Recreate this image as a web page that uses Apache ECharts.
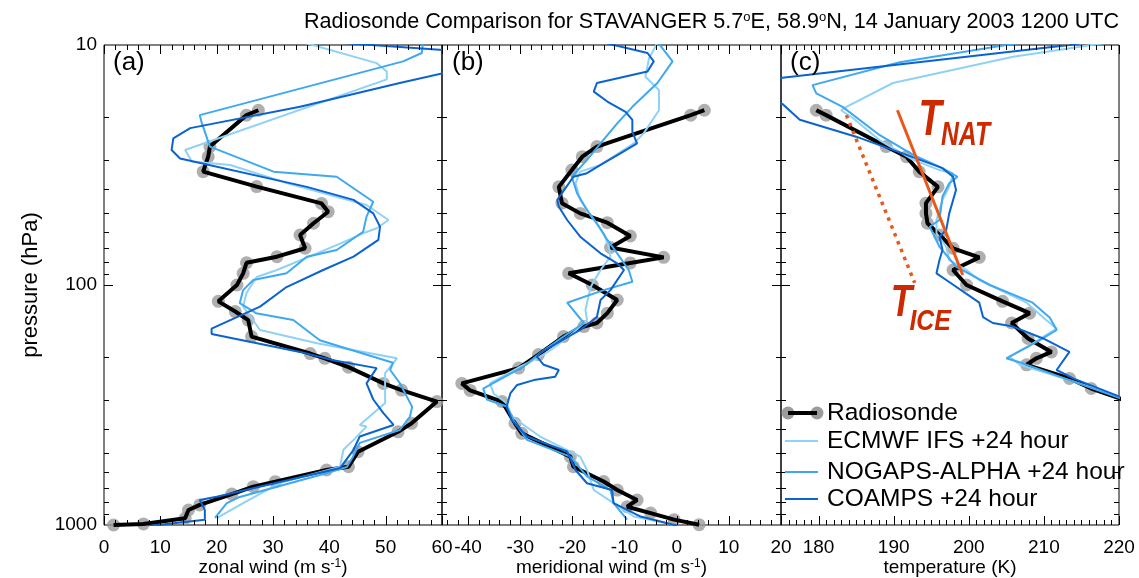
<!DOCTYPE html>
<html><head><meta charset="utf-8">
<script src="https://cdn.jsdelivr.net/npm/echarts@6/dist/echarts.min.js"></script>
<style>html,body{margin:0;padding:0;background:#fff}#c{width:1139px;height:578px}</style>
</head><body><div id="c"></div>
<script>
const FONT = "'Liberation Sans', Arial, Helvetica, sans-serif";

// ---------- data: [value, pressure hPa] ----------
const zonalRadiosonde = [[27.4,18.7],[25.3,19.6],[18.8,26.5],[18.5,29.2],[17.6,33.7],[27.1,38.9],[38.6,45.7],[39.8,49.5],[37.2,55.3],[34.8,61.9],[35.7,70.3],[30.7,76.2],[25.3,80.8],[24.7,89.4],[23.6,100],[20.3,117],[23.3,129],[25.6,140],[26.2,164],[36.6,193],[39.2,202],[43.4,220],[49.6,257],[52.8,274],[59.1,306],[54.6,377],[52.2,409],[45.1,495],[43.4,572],[39.5,590],[30.4,660],[26.5,692],[22.7,743],[17.0,825],[15.0,866],[14.4,938],[7.0,990],[1.7,1000]];
const zonalECMWF = [[35.7,9.8],[48.4,11.9],[50.2,12.9],[50.2,13.9],[14.4,27.4],[15.6,30.6],[22.4,31.6],[32.4,37.6],[46.6,46.4],[50.5,53.6],[48.4,58.0],[46.0,60.9],[41.9,67.2],[37.8,73.8],[30.7,86.6],[27.1,92.6],[25.3,108],[24.7,123],[27.7,154],[37.8,175],[52.0,202],[49.9,233],[49.9,310],[45.4,383],[46.6,389],[44.3,442],[42.5,486],[41.9,571],[31.2,669],[24.7,811],[20.0,936]];
const zonalNOGAPS = [[56.7,9.5],[56.4,10.8],[53.1,11.7],[17.0,19.6],[17.3,20.9],[18.8,26.5],[30.1,33.7],[41.3,35.4],[47.8,45.0],[46.6,51.9],[46.0,60.0],[41.3,71.5],[36.0,76.2],[32.4,89.4],[26.5,95.3],[24.7,105],[24.1,119],[27.0,131],[33.6,140],[38.3,170],[51.3,211],[50.8,226],[52.5,256],[54.7,322],[54.3,354],[52.5,402],[45.4,455],[44.2,520],[43.1,573],[39.6,607],[24.1,764],[21.8,810],[19.7,935]];
const zonalCOAMPS = [[34,9.5],[60.2,10.5],[65,11.5],[65,12.7],[60.2,13.1],[52.5,14.4],[34.8,18.1],[15.3,22.2],[12.3,24.5],[12.0,27.4],[13.5,29.7],[36.0,39.0],[44.3,44.2],[47.8,50.3],[49.0,57.2],[48.7,64.9],[44.3,76.2],[38.9,86.6],[32.4,102],[27.7,123],[19.1,152],[19.1,160],[34.8,190],[40.7,206],[48.4,222],[46.6,257],[47.8,300],[49.6,342],[51.4,383],[45.4,428],[44.3,486],[41.9,579],[20.0,762],[17.0,787],[17.9,865],[17.9,950],[7.6,1013]];

const meridRadiosonde = [[5.3,18.7],[2.7,19.6],[-15.3,26.5],[-18.1,29.2],[-20.1,33.2],[-22.6,39.0],[-22.0,45.6],[-18.5,50.3],[-13.3,55.0],[-8.9,62.5],[-12.7,69.8],[-2.5,76.7],[-8.9,80.9],[-20.7,89.4],[-16.2,100],[-11.4,115.5],[-13.3,131],[-15.3,144],[-17.8,149],[-21.7,164],[-26.5,195],[-30.3,222],[-41.2,257],[-39.6,275],[-33.5,306],[-31.0,377],[-29.7,415],[-20.4,519],[-19.8,572],[-14.0,659],[-11.4,715],[-7.6,787],[-9.5,839],[-5.0,892],[-0.5,950],[4.3,997]];
const meridECMWF = [[-3.7,9.8],[-5.3,11.35],[-6.0,13.55],[-3.4,15.4],[-3.4,18.7],[-6.3,23.3],[-8.2,25.7],[-14.6,31.6],[-18.5,33.7],[-19.4,37.7],[-18.5,44.2],[-15.9,53.6],[-14.0,60.9],[-13.0,69.3],[-12.7,76.2],[-14.6,86.6],[-16.5,102],[-17.5,127],[-17.2,140],[-19.8,158],[-24.2,187],[-26.8,202],[-30.0,219],[-35.8,257],[-35.1,283],[-32.6,311],[-31.6,353],[-26.2,428],[-18.5,519],[-17.2,590],[-15.9,715],[-12.1,811],[-8.2,922],[-0.5,997]];
const meridNOGAPS = [[-3.7,9.7],[-0.8,11.7],[-3.7,14.4],[-8.5,18.1],[-11.4,21.2],[-14.6,25.7],[-17.2,30.1],[-20.1,35.4],[-19.1,41.5],[-17.2,48.7],[-15.3,55.3],[-13.3,64.9],[-11.4,73.8],[-9.2,86.6],[-8.5,96.9],[-14.0,105],[-21.0,118.5],[-17.8,144],[-21.7,164],[-26.2,192],[-29.4,219],[-37.1,270],[-36.4,300],[-32.6,321],[-31.3,366],[-28.7,442],[-20.4,519],[-17.2,627],[-12.7,715],[-12.1,811],[-9.5,950]];
const meridCOAMPS = [[-14.6,9.7],[-5.6,10.8],[-4.4,11.7],[-5.6,12.9],[-15.3,14.4],[-15.9,15.65],[-13.3,17.2],[-9.8,19.0],[-8.5,20.5],[-8.5,23.0],[-7.6,25.7],[-10.8,28.3],[-14.6,31.6],[-17.2,34.2],[-19.8,35.4],[-22.9,44.2],[-22.6,47.2],[-21.0,53.6],[-18.5,62.9],[-14.6,73.8],[-11.4,81.3],[-10.1,86.6],[-12.7,105],[-14.6,115.5],[-15.3,136],[-18.5,154],[-23.6,178],[-26.2,192],[-26.8,199],[-25.5,215],[-22.6,226],[-23.3,241],[-27.4,249],[-30.6,261],[-31.9,283],[-32.6,321],[-31.6,366],[-28.7,428],[-21.0,494],[-19.4,590],[-17.2,670],[-12.4,715],[-12.1,811],[-6.9,922],[0.1,1007]];

const tempRadiosonde = [[179.7,18.7],[181.0,19.6],[189.0,26.5],[191.7,29.2],[193.4,33.7],[195.9,39.0],[194.3,45.6],[194.3,50.3],[194.5,55.3],[196.1,61.9],[197.9,70.3],[201.4,76.7],[197.9,86.6],[199.7,100],[204.5,117],[208.1,131],[205.7,144],[207.9,167],[211.0,190],[209.0,202],[207.7,215],[213.4,245],[216.3,270],[220.1,297],[222.5,320]];
const tempECMWF = [[219.2,9.7],[205.9,11.2],[189.9,14.4],[183.7,18.1],[183.0,18.7],[184.6,20.2],[188.1,24.9],[192.6,30.1],[196.1,33.2],[197.9,34.2],[197.4,39.0],[196.5,44.2],[195.7,53.6],[195.7,60.9],[197.0,69.3],[197.4,78.7],[199.7,86.6],[201.4,95.3],[207.7,118.5],[210.3,140],[211.7,152],[210.8,158],[207.7,182],[205.4,199],[206.8,215],[213.4,249],[220.1,292],[222.7,313]];
const tempNOGAPS = [[209.4,9.5],[190.8,11.8],[179.2,14.7],[179.7,15.9],[183.2,18.1],[188.1,23.7],[192.6,28.7],[196.5,32.6],[198.5,35.4],[197.4,37.7],[196.5,42.8],[196.1,53.6],[194.8,57.2],[196.1,69.3],[198.3,83.8],[202.8,100],[208.5,118.5],[210.8,137],[211.7,154],[209.4,170],[205.0,202],[207.2,212],[213.4,249],[220.1,296],[222.7,318]];
const tempCOAMPS = [[218.7,9.35],[213.4,10],[175.2,13.7],[172.1,14.2],[172.1,17.0],[175.2,17.6],[177.5,20.5],[185.0,24.1],[191.7,28.7],[196.5,32.6],[197.9,35.4],[198.3,40.2],[197.4,50.3],[197.0,59.0],[196.1,62.9],[196.5,71.5],[196.1,78.7],[195.7,89.4],[197.0,95.3],[201.4,118.5],[201.9,136],[203.2,144],[205.9,149],[209.9,167],[213.4,190],[211.7,226],[213.9,245],[220.1,292],[222.7,313]];

const tNAT = [[190.5,18.7],[199.2,90.9]];
const tICE = [[183.7,19.6],[192.8,98]];

// axis ranges & ticks
const xRanges = [[0,60],[-45,20],[175,220]];
const xMajorStart = [0,-40,180];
const xMajorStep = [10,10,10];
const xMinorStep = [2,2,1];
const pressureMajor = [10,100,1000];
const pressureMinor = [20,30,40,50,60,70,80,90,200,300,400,500,600,700,800,900];

const xNames = ['zonal wind (m s{sup|-1})','meridional wind (m s{sup|-1})','temperature (K)'];
const panelTags = ['(a)','(b)','(c)'];
const legendNames = ['Radiosonde','ECMWF IFS +24 hour','NOGAPS-ALPHA +24 hour','COAMPS +24 hour'];
const COLORS = {ecmwf:'#8fd1f7', nogaps:'#3ea8f0', coamps:'#0b63d0', dots:'#9b9b9b', nat:'#e8581a', label:'#cc2a00'};

const profiles = [
  [zonalRadiosonde, zonalECMWF, zonalNOGAPS, zonalCOAMPS],
  [meridRadiosonde, meridECMWF, meridNOGAPS, meridCOAMPS],
  [tempRadiosonde, tempECMWF, tempNOGAPS, tempCOAMPS]
];

const gridRects = [{left:104,width:338},{left:442,width:339},{left:781,width:338}];
const TOP = 45, HEIGHT = 480;

const chart = echarts.init(document.getElementById('c'), null, {renderer:'canvas'});

function xTickRender(params, api){
  const cs = params.coordSys;
  let x = api.coord([api.value(0), 100])[0];
  x = Math.round(x) + 0.5;
  const len = api.value(2);
  const b = cs.y + cs.height;
  return {type:'group', children:[
    {type:'line', shape:{x1:x,y1:b,x2:x,y2:b-len}, style:{stroke:'#000',lineWidth:1}},
    {type:'line', shape:{x1:x,y1:cs.y,x2:x,y2:cs.y+len}, style:{stroke:'#000',lineWidth:1}}
  ]};
}
function yTickRender(params, api){
  const cs = params.coordSys;
  let y = api.coord([api.value(0), api.value(1)])[1];
  y = Math.round(y) + 0.5;
  const len = api.value(2);
  const r = cs.x + cs.width;
  return {type:'group', children:[
    {type:'line', shape:{x1:cs.x,y1:y,x2:cs.x+len,y2:y}, style:{stroke:'#000',lineWidth:1}},
    {type:'line', shape:{x1:r,y1:y,x2:r-len,y2:y}, style:{stroke:'#000',lineWidth:1}}
  ]};
}

const grids = [], xAxes = [], yAxes = [], series = [];
for (let i=0;i<3;i++){
  grids.push({left:gridRects[i].left, top:TOP, width:gridRects[i].width, height:HEIGHT,
    show:true, borderColor:'#000', borderWidth:1, backgroundColor:'transparent',
    containLabel:false, outerBoundsMode:'none'});
  xAxes.push({type:'value', gridIndex:i, min:xRanges[i][0], max:xRanges[i][1], interval: i===0?10:5,
    axisLine:{show:false}, axisTick:{show:false}, splitLine:{show:false},
    axisLabel:{fontSize:19, fontFamily:FONT, color:'#000', margin:13,
      formatter:(v)=> (Math.abs((v - xMajorStart[i]) % 10) < 1e-6 ? String(Math.round(v)) : '')},
    name:xNames[i], nameLocation:'middle', nameGap:33, nameMoveOverlap:false,
    nameTextStyle:{fontSize:19, fontFamily:FONT, color:'#000',
      rich:{sup:{fontSize:12, fontFamily:FONT, color:'#000', verticalAlign:'top'}}}
  });
  yAxes.push({type:'log', logBase:10, gridIndex:i, min:10, max:1000, inverse:true,
    axisLine:{show:false}, axisTick:{show:false}, splitLine:{show:false}, minorSplitLine:{show:false},
    axisLabel:{show:i===0, fontSize:19, fontFamily:FONT, color:'#000', margin:7,
      formatter:(v)=>String(Math.round(v))},
    name: i===0 ? 'pressure (hPa)' : '', nameLocation:'middle', nameGap:62, nameRotate:90,
    nameMoveOverlap:false,
    nameTextStyle:{fontSize:22, fontFamily:FONT, color:'#000'}
  });
  const [rs, ec, ng, co] = profiles[i];
  series.push({type:'scatter', xAxisIndex:i, yAxisIndex:i, data:rs, symbol:'circle', symbolSize:13,
    itemStyle:{color:COLORS.dots}, z:1, silent:true, clip:true});
  series.push({type:'line', name:legendNames[0], xAxisIndex:i, yAxisIndex:i, data:rs, showSymbol:false,
    lineStyle:{color:'#000', width:4}, z:2, clip:true});
  series.push({type:'line', name:legendNames[1], xAxisIndex:i, yAxisIndex:i, data:ec, showSymbol:false,
    lineStyle:{color:COLORS.ecmwf, width:2}, z:3, clip:true});
  series.push({type:'line', name:legendNames[2], xAxisIndex:i, yAxisIndex:i, data:ng, showSymbol:false,
    lineStyle:{color:COLORS.nogaps, width:2}, z:4, clip:true});
  series.push({type:'line', name:legendNames[3], xAxisIndex:i, yAxisIndex:i, data:co, showSymbol:false,
    lineStyle:{color:COLORS.coamps, width:2}, z:5, clip:true});
  // ticks
  const xt = [];
  const [mn, mx] = xRanges[i];
  for (let v = Math.ceil(mn / xMinorStep[i]) * xMinorStep[i]; v <= mx + 1e-9; v += xMinorStep[i]) {
    const isMajor = Math.abs(((v - xMajorStart[i]) % xMajorStep[i])) < 1e-6;
    xt.push([v, 100, isMajor ? 9 : 5]);
  }
  series.push({type:'custom', xAxisIndex:i, yAxisIndex:i, data:xt, encode:{x:0,y:1},
    renderItem:xTickRender, silent:true, z:10});
  const xm = (mn + mx) / 2;
  const yt = pressureMinor.map(p => [xm, p, 5]).concat(pressureMajor.slice(1,2).map(p => [xm, p, 9]));
  series.push({type:'custom', xAxisIndex:i, yAxisIndex:i, data:yt, encode:{x:0,y:1},
    renderItem:yTickRender, silent:true, z:10});
}
series.push({type:'line', xAxisIndex:2, yAxisIndex:2, data:tNAT, showSymbol:false,
  lineStyle:{color:COLORS.nat, width:3}, z:6, clip:true});
series.push({type:'line', xAxisIndex:2, yAxisIndex:2, data:tICE, showSymbol:false,
  lineStyle:{color:COLORS.nat, width:3.5, type:[3.5,5]}, z:6, clip:true});

chart.setOption({
  animation:false,
  backgroundColor:'#fff',
  title:{text:'Radiosonde Comparison for STAVANGER 5.7{s|o}E, 58.9{s|o}N, 14 January 2003 1200 UTC',
    left:299, top:6,
    textStyle:{fontSize:21.6, fontWeight:'normal', fontFamily:FONT, color:'#000',
      rich:{s:{fontSize:13, fontFamily:FONT, color:'#000', verticalAlign:'top'}}}},
  grid:grids, xAxis:xAxes, yAxis:yAxes, series:series
});

// annotation & legend graphics
const gfx = [];
const tagX = [113, 452, 790];
panelTags.forEach((t,i)=>gfx.push({type:'text', x:tagX[i], y:63, z:50,
  style:{text:t, fontSize:26, fontFamily:FONT, fill:'#000', verticalAlign:'middle'}}));

function labelAt(anchor, txt, size, sx){
  const p = chart.convertToPixel({gridIndex:2}, anchor);
  gfx.push({type:'text', x:p[0], y:p[1], scaleX:sx, z:60,
    style:{text:txt, fontSize:size, fontFamily:FONT, fontWeight:'bold', fontStyle:'italic',
      fill:COLORS.label, verticalAlign:'middle'}});
}
// anchors in data coords [K, hPa]
const natTAnchor = [193.3, 20.8], natSubAnchor = [196.3, 24.0];
const iceTAnchor = [189.6, 120], iceSubAnchor = [192.1, 141.7];
labelAt(natTAnchor, 'T', 50, 0.76);
labelAt(natSubAnchor, 'NAT', 33, 0.75);
labelAt(iceTAnchor, 'T', 44, 0.8);
labelAt(iceSubAnchor, 'ICE', 30, 0.83);

// legend
const legY = [413, 441, 472, 499];
const legColors = ['#000', COLORS.ecmwf, COLORS.nogaps, COLORS.coamps];
gfx.push({type:'circle', shape:{cx:788, cy:legY[0], r:6.5}, style:{fill:COLORS.dots}, z:70});
gfx.push({type:'circle', shape:{cx:817, cy:legY[0], r:6.5}, style:{fill:COLORS.dots}, z:70});
legendNames.forEach((n,i)=>{
  gfx.push({type:'line', shape:{x1:i===0?788:785, y1:legY[i], x2:i===0?817:818, y2:legY[i]},
    style:{stroke:legColors[i], lineWidth:i===0?4:2}, z:71});
  gfx.push({type:'text', x:827, y:legY[i], z:71,
    style:{text:n, fontSize:24.5, fontFamily:FONT, fill:'#000', verticalAlign:'middle'}});
});
chart.setOption({graphic:gfx});
</script>
</body></html>
